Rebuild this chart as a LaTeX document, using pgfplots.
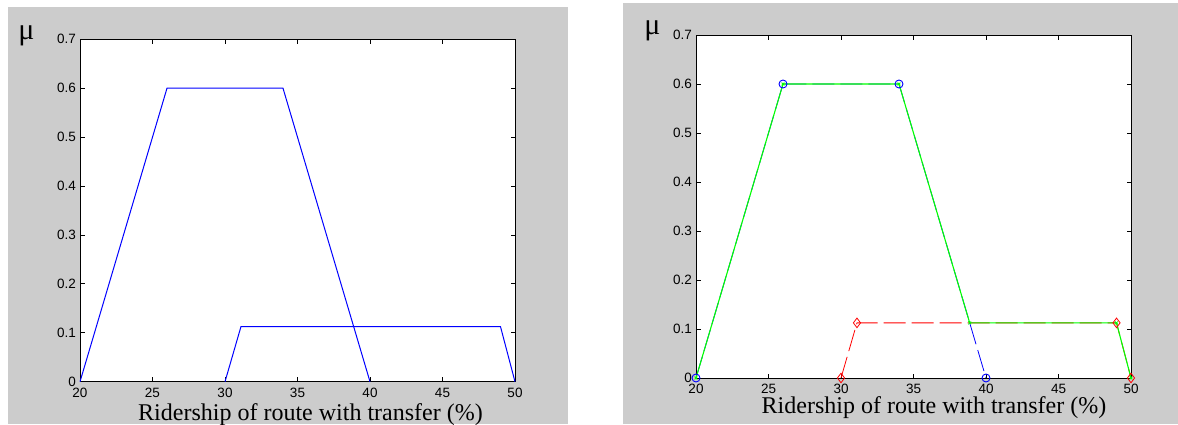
\documentclass[border=0pt]{standalone}
\usepackage{fontspec}
\setmainfont{Liberation Serif}
\newfontfamily\sansf{Liberation Sans}
\usepackage{pgfplots}
\pgfplotsset{compat=1.18}
\definecolor{bggray}{RGB}{204,204,204}
\definecolor{mgreen}{RGB}{0,255,0}
\definecolor{mblue}{RGB}{0,0,255}
\definecolor{mred}{RGB}{255,0,0}
\pgfplotsset{mystyle/.style={
  scale only axis, width=435pt,
  xmin=20, xmax=50, ymin=0, ymax=0.7,
  xtick={20,25,30,35,40,45,50},
  ytick={0,0.1,0.2,0.3,0.4,0.5,0.6,0.7},
  tick align=inside, major tick length=4.5pt,
  axis line style={line width=0.8pt, black},
  every tick/.style={black, line width=0.8pt},
  axis background/.style={fill=white},
  tick label style={font=\sansf\fontsize{13.5}{14}\selectfont, text=black},
  /pgf/number format/assume math mode=true,
  yticklabel style={/pgf/number format/fixed, /pgf/number format/precision=1, anchor=east, inner sep=0pt, xshift=-4pt},
  xticklabel style={anchor=north, inner sep=0pt, yshift=-6pt},
  clip=false
}}
\begin{document}
\begin{tikzpicture}
\path[use as bounding box, fill=white] (0pt,0pt) rectangle (1178pt,424pt);
\fill[bggray] (7.5pt,0pt) rectangle (567.5pt,417pt);
\fill[bggray] (622.7pt,0pt) rectangle (1178pt,420.7pt);

\begin{axis}[mystyle, at={(80pt,42.3pt)}, anchor=south west, height=342.4pt]
\addplot[mblue, line width=1pt] coordinates {(20,0) (26,0.6) (34,0.6) (40,0)};
\addplot[mblue, line width=1pt] coordinates {(30,0) (31.1,0.1125) (49,0.1125) (50,0)};
\end{axis}

\begin{axis}[mystyle, at={(696pt,46pt)}, anchor=south west, height=343pt]
\addplot[mblue, line width=0.8pt, dash pattern=on 22pt off 6pt, mark=o, mark size=4pt, mark options={solid, line width=0.9pt}] coordinates {(20,0) (26,0.6) (34,0.6) (40,0)};
\addplot[mred, line width=0.8pt, dash pattern=on 22pt off 6pt, mark=diamond, mark size=4.8pt, mark options={solid, line width=0.8pt}] coordinates {(30,0) (31.1,0.1125) (49,0.1125) (50,0)};
\addplot[mgreen, line width=1.1pt, mark=x, mark size=2pt, mark options={solid, line width=0.8pt}] coordinates {(20,0) (26,0.6) (34,0.6) (38.875,0.1125) (49,0.1125) (50,0)};
\end{axis}

\node[anchor=base, font=\fontsize{24}{28}\selectfont, inner sep=0pt] at (310.5pt,4pt) {Ridership of route with transfer (\%)};
\node[anchor=base, font=\fontsize{24}{28}\selectfont, inner sep=0pt] at (934pt,11pt) {Ridership of route with transfer (\%)};
\node[anchor=base, font=\fontsize{30}{34}\selectfont, inner sep=0pt] at (26.5pt,384pt) {μ};
\node[anchor=base, font=\fontsize{30}{34}\selectfont, inner sep=0pt] at (652.5pt,389pt) {μ};
\end{tikzpicture}
\end{document}
